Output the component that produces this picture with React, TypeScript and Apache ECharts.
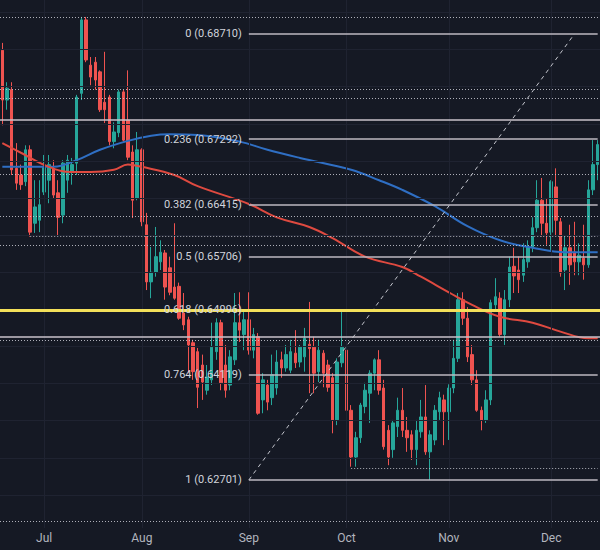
import React, { useEffect, useRef } from 'react';
import * as echarts from 'echarts';

// ---------- categories (trading days) ----------
const START_DATE = '2023-06-20';
const BAR_COUNT = 129;
function tradingDays(start: string, n: number): string[] {
  const out: string[] = [];
  const d = new Date(start + 'T00:00:00Z');
  while (out.length < n) {
    const wd = d.getUTCDay();
    if (wd !== 0 && wd !== 6) out.push(d.toISOString().slice(0, 10));
    d.setUTCDate(d.getUTCDate() + 1);
  }
  return out;
}
const dates = tradingDays(START_DATE, BAR_COUNT);

const monthStarts = [9, 30, 53, 74, 96, 118];
const monthLabels = ['Jul', 'Aug', 'Sep', 'Oct', 'Nov', 'Dec'];

// ---------- OHLC ----------
const opens = [
  0.6849, 0.6782, 0.6796, 0.6690, 0.6681, 0.6672, 0.6715, 0.6616, 0.6620, 0.6658,
  0.6674, 0.6690, 0.6657, 0.6627, 0.6674, 0.6685, 0.6697, 0.6791, 0.6890, 0.6829,
  0.6833, 0.6820, 0.6779, 0.6786, 0.6726, 0.6738, 0.6793, 0.6755, 0.6712, 0.6650,
  0.6715, 0.6614, 0.6537, 0.6550, 0.6564, 0.6576, 0.6556, 0.6530, 0.6531, 0.6495,
  0.6486, 0.6455, 0.6443, 0.6425, 0.6391, 0.6405, 0.6443, 0.6482, 0.6425, 0.6398,
  0.6432, 0.6482, 0.6466, 0.6486, 0.6445, 0.6463, 0.6378, 0.6398, 0.6381, 0.6394,
  0.6432, 0.6421, 0.6418, 0.6441, 0.6429, 0.6436, 0.6453, 0.6449, 0.6416, 0.6441,
  0.6425, 0.6408, 0.6351, 0.6428, 0.6445, 0.6364, 0.6301, 0.6327, 0.6369, 0.6387,
  0.6414, 0.6432, 0.6394, 0.6337, 0.6311, 0.6342, 0.6364, 0.6337, 0.6331, 0.6311,
  0.6335, 0.6355, 0.6308, 0.6324, 0.6362, 0.6378, 0.6362, 0.6394, 0.6434, 0.6513,
  0.6488, 0.6439, 0.6405, 0.6364, 0.6351, 0.6378, 0.6506, 0.6515, 0.6466, 0.6513,
  0.6558, 0.6553, 0.6546, 0.6564, 0.6584, 0.6610, 0.6647, 0.6616, 0.6604, 0.6665,
  0.6618, 0.6553, 0.6583, 0.6577, 0.6564, 0.6569, 0.6560, 0.6661, 0.6695,
];
const closes = [
  0.6782, 0.6798, 0.6688, 0.6670, 0.6668, 0.6715, 0.6604, 0.6638, 0.6641, 0.6692,
  0.6695, 0.6654, 0.6624, 0.6697, 0.6701, 0.6695, 0.6786, 0.6890, 0.6836, 0.6813,
  0.6809, 0.6769, 0.6769, 0.6726, 0.6739, 0.6793, 0.6728, 0.6705, 0.6647, 0.6715,
  0.6618, 0.6537, 0.6550, 0.6571, 0.6577, 0.6530, 0.6523, 0.6515, 0.6488, 0.6479,
  0.6452, 0.6416, 0.6395, 0.6402, 0.6409, 0.6449, 0.6482, 0.6401, 0.6391, 0.6436,
  0.6482, 0.6472, 0.6486, 0.6445, 0.6466, 0.6360, 0.6405, 0.6375, 0.6412, 0.6429,
  0.6421, 0.6439, 0.6443, 0.6428, 0.6449, 0.6461, 0.6447, 0.6414, 0.6445, 0.6414,
  0.6395, 0.6351, 0.6429, 0.6449, 0.6364, 0.6301, 0.6327, 0.6371, 0.6391, 0.6414,
  0.6432, 0.6391, 0.6315, 0.6301, 0.6347, 0.6364, 0.6337, 0.6327, 0.6311, 0.6337,
  0.6355, 0.6308, 0.6331, 0.6364, 0.6381, 0.6362, 0.6394, 0.6434, 0.6513, 0.6488,
  0.6436, 0.6405, 0.6364, 0.6351, 0.6378, 0.6509, 0.6517, 0.6466, 0.6513, 0.6557,
  0.6545, 0.6540, 0.6567, 0.6584, 0.6610, 0.6647, 0.6616, 0.6603, 0.6672, 0.6620,
  0.6549, 0.6583, 0.6560, 0.6564, 0.6573, 0.6560, 0.6661, 0.6695, 0.6722,
];
const lows = [
  0.6748, 0.6769, 0.6681, 0.6661, 0.6661, 0.6666, 0.6598, 0.6603, 0.6604, 0.6654,
  0.6643, 0.6650, 0.6600, 0.6616, 0.6657, 0.6668, 0.6681, 0.6782, 0.6833, 0.6802,
  0.6796, 0.6766, 0.6751, 0.6721, 0.6717, 0.6732, 0.6726, 0.6701, 0.6623, 0.6647,
  0.6612, 0.6526, 0.6515, 0.6544, 0.6553, 0.6513, 0.6519, 0.6513, 0.6486, 0.6472,
  0.6414, 0.6405, 0.6367, 0.6378, 0.6385, 0.6398, 0.6432, 0.6391, 0.6381, 0.6391,
  0.6425, 0.6456, 0.6445, 0.6439, 0.6434, 0.6358, 0.6360, 0.6364, 0.6371, 0.6385,
  0.6408, 0.6416, 0.6414, 0.6421, 0.6422, 0.6416, 0.6387, 0.6387, 0.6402, 0.6395,
  0.6389, 0.6333, 0.6344, 0.6422, 0.6362, 0.6288, 0.6288, 0.6320, 0.6360, 0.6347,
  0.6391, 0.6385, 0.6311, 0.6290, 0.6300, 0.6328, 0.6328, 0.6308, 0.6297, 0.6290,
  0.6327, 0.6304, 0.6270, 0.6317, 0.6351, 0.6317, 0.6324, 0.6387, 0.6429, 0.6479,
  0.6429, 0.6398, 0.6362, 0.6337, 0.6347, 0.6371, 0.6497, 0.6463, 0.6452, 0.6503,
  0.6522, 0.6522, 0.6537, 0.6556, 0.6577, 0.6604, 0.6598, 0.6587, 0.6580, 0.6600,
  0.6544, 0.6526, 0.6533, 0.6546, 0.6546, 0.6540, 0.6556, 0.6654, 0.6674,
];
const highs = [
  0.6859, 0.6806, 0.6806, 0.6724, 0.6695, 0.6721, 0.6721, 0.6674, 0.6674, 0.6708,
  0.6708, 0.6701, 0.6674, 0.6701, 0.6708, 0.6704, 0.6789, 0.6894, 0.6894, 0.6840,
  0.6840, 0.6822, 0.6847, 0.6789, 0.6752, 0.6796, 0.6796, 0.6822, 0.6721, 0.6739,
  0.6717, 0.6630, 0.6584, 0.6611, 0.6593, 0.6580, 0.6571, 0.6616, 0.6536, 0.6522,
  0.6490, 0.6459, 0.6448, 0.6439, 0.6425, 0.6482, 0.6488, 0.6486, 0.6452, 0.6445,
  0.6522, 0.6523, 0.6499, 0.6523, 0.6475, 0.6468, 0.6414, 0.6405, 0.6439, 0.6445,
  0.6443, 0.6452, 0.6459, 0.6472, 0.6452, 0.6475, 0.6510, 0.6463, 0.6459, 0.6445,
  0.6432, 0.6414, 0.6434, 0.6499, 0.6449, 0.6371, 0.6335, 0.6374, 0.6401, 0.6418,
  0.6434, 0.6445, 0.6405, 0.6344, 0.6351, 0.6381, 0.6394, 0.6355, 0.6337, 0.6351,
  0.6378, 0.6398, 0.6337, 0.6371, 0.6389, 0.6385, 0.6399, 0.6459, 0.6522, 0.6523,
  0.6503, 0.6452, 0.6418, 0.6369, 0.6391, 0.6513, 0.6542, 0.6523, 0.6526, 0.6571,
  0.6583, 0.6571, 0.6589, 0.6593, 0.6624, 0.6674, 0.6677, 0.6650, 0.6674, 0.6690,
  0.6623, 0.6600, 0.6614, 0.6618, 0.6589, 0.6614, 0.6674, 0.6728, 0.6728,
];

// ---------- moving averages (read at sample bars) ----------
const blueMABars = [0, 11, 16, 21, 27, 32, 36, 42, 51, 57, 64, 75, 81, 86, 93, 100, 107, 114, 121, 128];
const blueMAValues = [
  0.6692, 0.6692, 0.6701, 0.6715, 0.6727, 0.6734, 0.6736, 0.6735, 0.6726, 0.6715,
  0.6704, 0.6688, 0.6674, 0.6661, 0.6639, 0.6612, 0.6593, 0.6583, 0.6577, 0.6577,
];
const redMABars = [0, 4, 10, 15, 19, 24, 27, 30, 37, 42, 53, 59, 66, 71, 78, 86, 90, 96, 101, 107, 114, 120, 126, 128];
const redMAValues = [
  0.6724, 0.6711, 0.6692, 0.6685, 0.6685, 0.6688, 0.6695, 0.6692, 0.6681, 0.6666,
  0.6642, 0.6624, 0.6611, 0.6596, 0.6571, 0.6557, 0.6544, 0.6523, 0.6506, 0.6490,
  0.6482, 0.6470, 0.6461, 0.6461,
];

// ---------- horizontal levels ----------
const dottedFullLevels = [0.6894, 0.6797, 0.6784, 0.6682, 0.6626, 0.6586, 0.6459, 0.6214];
const dottedRayStarts = [6, 75];
const dottedRayLevels = [0.6598, 0.6286];
const solidFullLevels = [0.6756, 0.6463];
const yellowLevel = 0.6499;

// ---------- Fibonacci retracement ----------
const fibRatios = ['0', '0.236', '0.382', '0.5', '0.618', '0.764', '1'];
const fibPrices = [0.6871, 0.67292, 0.66415, 0.65706, 0.64996, 0.64119, 0.62701];
const fibStartBar = 53;
const fibTrendEndBar = 123;

// ---------- grid ----------
const gridLevels = [0.625, 0.63, 0.635, 0.64, 0.645, 0.65, 0.655, 0.66, 0.665, 0.67, 0.675, 0.68, 0.685, 0.69];
const Y_MIN = 0.62054;
const Y_MAX = 0.69168;

const BG = '#151924';
const FONT = 'Roboto, "Noto Sans", sans-serif';

export default function App() {
  const ref = useRef<HTMLDivElement>(null);

  useEffect(() => {
    document.body.style.margin = '0';
    document.body.style.background = BG;
    if (!ref.current) return;
    const chart = echarts.init(ref.current, undefined, { renderer: 'svg' });
    const last = dates.length - 1;

    const candles = dates.map((_, i) => [opens[i], closes[i], lows[i], highs[i]]);
    const blue = blueMABars.map((b, i) => [dates[b], blueMAValues[i]]);
    const red = redMABars.map((b, i) => [dates[b], redMAValues[i]]);

    const dottedStyle = { type: [1, 2] as any, color: '#c9cad2', width: 1, opacity: 0.85 };
    const solidStyle = { type: 'solid', color: '#c8c2ca', width: 1.5 };

    const levelLines: any[] = [];
    dottedFullLevels.forEach((v) => levelLines.push({ yAxis: v, lineStyle: dottedStyle }));
    dottedRayLevels.forEach((v, i) =>
      levelLines.push([
        { coord: [dates[dottedRayStarts[i]], v], lineStyle: dottedStyle },
        { coord: [dates[last], v] },
      ])
    );
    solidFullLevels.forEach((v) => levelLines.push({ yAxis: v, lineStyle: solidStyle }));
    fibPrices.forEach((p, i) =>
      levelLines.push([
        {
          coord: [dates[fibStartBar], p],
          lineStyle: { type: 'solid', color: '#bdb8c0', width: 1.5 },
          label: {
            show: true,
            position: 'start',
            distance: 7,
            formatter: `${fibRatios[i]} (${p.toFixed(5)})`,
            color: '#d1d4dc',
            fontSize: 11,
            fontFamily: FONT,
          },
        },
        { coord: [dates[last], p] },
      ])
    );
    levelLines.push([
      {
        coord: [dates[fibStartBar], fibPrices[fibPrices.length - 1]],
        lineStyle: { type: [4, 4] as any, color: '#c4c6ce', width: 1 },
      },
      { coord: [dates[fibTrendEndBar], fibPrices[0]] },
    ]);
    levelLines.push({ yAxis: yellowLevel, lineStyle: { type: 'solid', color: '#f3e05a', width: 3 } });

    chart.setOption({
      animation: false,
      backgroundColor: BG,
      grid: { left: 0, right: 0, top: 0, bottom: 22 },
      xAxis: {
        type: 'category',
        data: dates,
        boundaryGap: true,
        axisLine: { show: false },
        axisTick: { show: false },
        splitLine: { show: false },
        axisLabel: {
          interval: (idx: number) => monthStarts.includes(idx),
          formatter: (_v: string, idx: number) => {
            const k = monthStarts.indexOf(idx);
            return k >= 0 ? monthLabels[k] : '';
          },
          color: '#b2b5be',
          fontSize: 12,
          fontFamily: FONT,
          margin: 4,
        },
      },
      yAxis: { type: 'value', min: Y_MIN, max: Y_MAX, show: false },
      series: [
        {
          type: 'line',
          data: [],
          z: 1,
          silent: true,
          markLine: {
            silent: true,
            precision: 6,
            symbol: ['none', 'none'],
            label: { show: false },
            lineStyle: { type: 'solid', color: '#1f2331', width: 1 },
            data: [
              ...gridLevels.map((v) => ({ yAxis: v })),
              ...monthStarts.map((i) => ({ xAxis: dates[i] })),
            ],
          },
        },
        {
          type: 'candlestick',
          data: candles,
          z: 2,
          barWidth: 3,
          itemStyle: {
            color: '#26a69a',
            color0: '#ef5350',
            borderColor: '#26a69a',
            borderColor0: '#ef5350',
            borderWidth: 1,
          },
        },
        {
          type: 'line',
          data: blue,
          z: 3,
          smooth: 0.4,
          showSymbol: false,
          silent: true,
          lineStyle: { color: '#2f6fc4', width: 2 },
        },
        {
          type: 'line',
          data: red,
          z: 3,
          smooth: 0.4,
          showSymbol: false,
          silent: true,
          lineStyle: { color: '#df4a40', width: 2 },
        },
        {
          type: 'line',
          data: [],
          z: 4,
          silent: true,
          markLine: {
            silent: true,
            precision: 6,
            symbol: ['none', 'none'],
            label: { show: false },
            data: levelLines,
          },
        },
      ],
    });
    return () => chart.dispose();
  }, []);

  return (
    <div
      ref={ref}
      style={{ position: 'fixed', left: 0, top: 0, width: 600, height: 550, background: BG }}
    />
  );
}
